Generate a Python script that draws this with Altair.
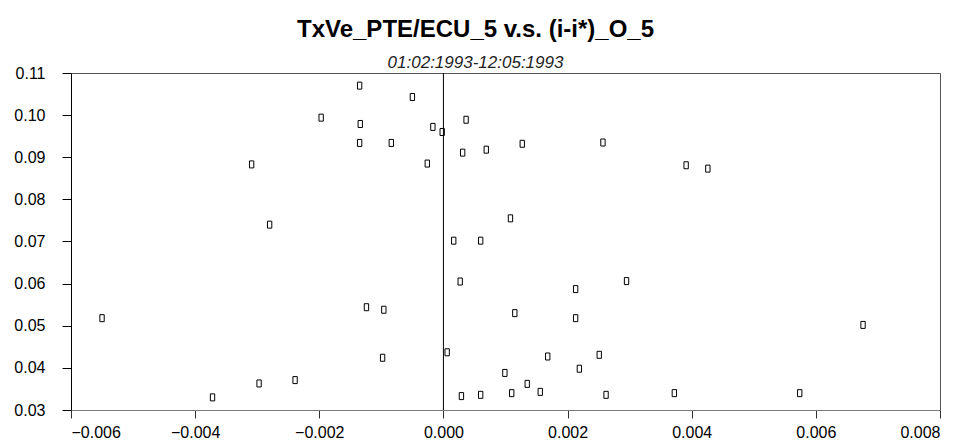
import altair as alt
import pandas as pd

# (i-i*) values on the x axis, TxVe values on the y axis
x_vals = [-0.00309, -0.00280, -0.00197, -0.00135, -0.00134, -0.00135, -0.00084, -0.00050,
          -0.00017, -0.00002, -0.00026, 0.000365, 0.00031, 0.00069, 0.00127, 0.00257,
          0.00391, 0.00426, 0.00108, -0.00550, -0.00372, -0.00297, -0.00239, -0.00124,
          -0.00096, -0.00098, 0.00006, 0.000166, 0.00027, 0.00029, 0.00060, 0.00060,
          0.00295, 0.00213, 0.00115, 0.00213, 0.00676, 0.00168, 0.00251, 0.00219,
          0.00099, 0.00135, 0.00156, 0.00110, 0.00262, 0.00372, 0.00574]
y_vals = [0.0883, 0.0740, 0.0994, 0.1070, 0.0979, 0.0934, 0.0934, 0.1043,
          0.0972, 0.0960, 0.0885, 0.0989, 0.0911, 0.0918, 0.0932, 0.0935,
          0.0881, 0.0873, 0.0755, 0.0518, 0.0330, 0.0363, 0.0371, 0.0544,
          0.0538, 0.0424, 0.0437, 0.0702, 0.0605, 0.0333, 0.0702, 0.0336,
          0.0606, 0.0587, 0.0530, 0.0518, 0.0502, 0.0427, 0.0431, 0.0398,
          0.0388, 0.0362, 0.0343, 0.0340, 0.0336, 0.0340, 0.0340]

x_ticks = [-0.006, -0.004, -0.002, 0.0, 0.002, 0.004, 0.006, 0.008]
y_ticks = [0.03, 0.04, 0.05, 0.06, 0.07, 0.08, 0.09, 0.10, 0.11]

title_text = "TxVe_PTE/ECU_5 v.s. (i-i*)_O_5"
subtitle_text = "01:02:1993-12:05:1993"

df = pd.DataFrame({"x": x_vals, "y": y_vals})
zero = pd.DataFrame({"x": [0.0]})

FONT = "Liberation Sans"

xscale = alt.Scale(domain=[-0.006, 0.008], nice=False, zero=False)
yscale = alt.Scale(domain=[0.03, 0.11], nice=False, zero=False)

points = alt.Chart(df).mark_point(
    shape="M-0.62,-1L0.62,-1L0.62,1L-0.62,1Z",
    size=49, filled=False, stroke="black", strokeWidth=1, opacity=1
).encode(
    x=alt.X("x:Q", scale=xscale,
            axis=alt.Axis(values=x_ticks, format=".3f", title=None, grid=False,
                          domainColor="#7a7a7a", tickColor="#333333", tickSize=8,
                          labelFontSize=16, labelFont=FONT, labelColor="black",
                          labelPadding=6)),
    y=alt.Y("y:Q", scale=yscale,
            axis=alt.Axis(values=y_ticks, format=".2f", title=None, grid=False,
                          domainColor="black", tickColor="black", tickSize=9,
                          labelFontSize=16, labelFont=FONT, labelColor="black",
                          labelPadding=17)),
)

rule = alt.Chart(zero).mark_rule(color="black", strokeWidth=1).encode(
    x=alt.X("x:Q", scale=xscale)
)

chart = alt.layer(rule, points).properties(
    width=869,
    height=337,
    padding={"left": 71, "top": 73, "right": 22, "bottom": 34},
    autosize=alt.AutoSizeParams(type="none"),
    title=alt.TitleParams(
        text=title_text,
        subtitle=subtitle_text,
        anchor="middle",
        dx=-30,
        font=FONT,
        fontSize=24,
        fontWeight="bold",
        color="black",
        subtitleFont=FONT,
        subtitleFontSize=17,
        subtitleFontStyle="italic",
        subtitleColor="#222222",
        subtitlePadding=13,
        offset=-6,
    ),
).configure_view(stroke="#555555", strokeWidth=1)

chart.save("out.html", embed_options={"renderer": "svg", "actions": False})
